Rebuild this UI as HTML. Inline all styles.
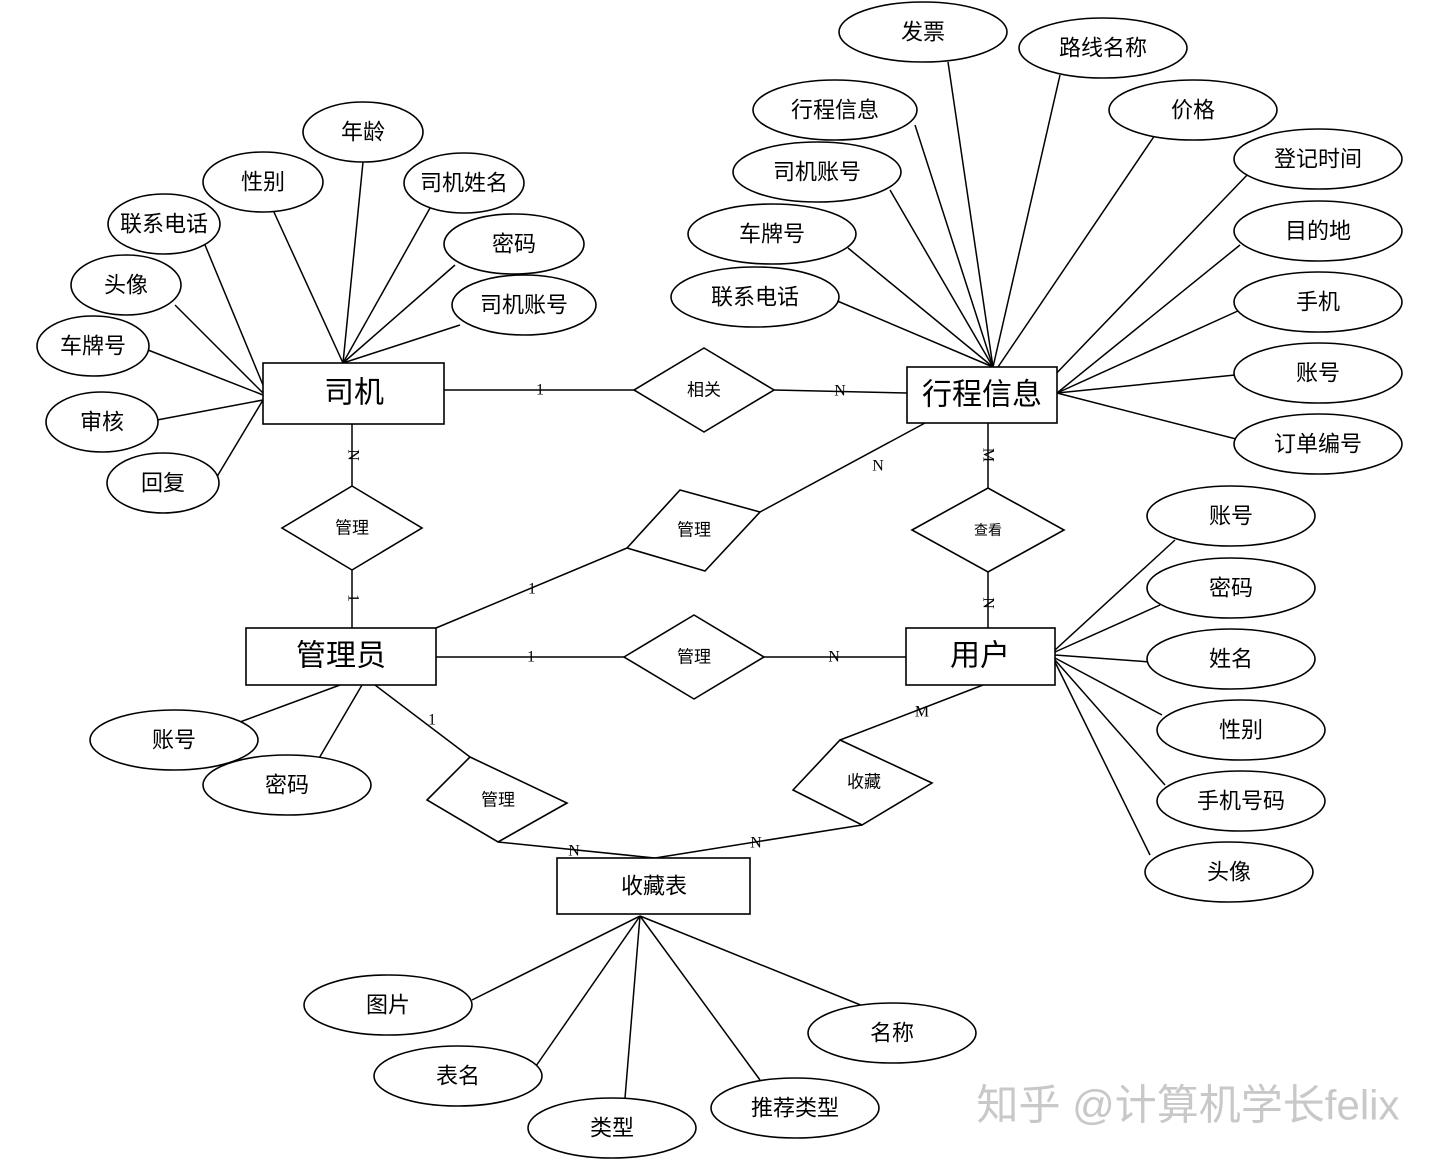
<!DOCTYPE html>
<html><head><meta charset="utf-8"><style>
html,body{margin:0;padding:0;background:#fff;}
svg{display:block;}
text{font-family:"Liberation Sans","Noto Sans CJK SC",sans-serif;fill:#000;text-anchor:middle;dominant-baseline:central;}
.a{font-size:22px;}
.r{font-size:17px;}
.c{font-size:16px;font-family:"Liberation Serif",serif;}
ellipse,rect,polygon{fill:#fff;stroke:#000;stroke-width:1.6;}
line{stroke:#000;stroke-width:1.5;}
</style></head><body>
<svg width="1440" height="1163" viewBox="0 0 1440 1163" xmlns="http://www.w3.org/2000/svg">
<line x1="363" y1="162" x2="343" y2="363"/>
<line x1="273" y1="210" x2="343" y2="363"/>
<line x1="430" y1="208" x2="343" y2="363"/>
<line x1="455" y1="265" x2="343" y2="363"/>
<line x1="460" y1="325" x2="343" y2="363"/>
<line x1="205" y1="245" x2="263" y2="385"/>
<line x1="175" y1="305" x2="263" y2="393"/>
<line x1="148" y1="350" x2="263" y2="395"/>
<line x1="157" y1="420" x2="263" y2="400"/>
<line x1="215" y1="480" x2="263" y2="400"/>
<line x1="948" y1="62" x2="993" y2="367"/>
<line x1="1060" y1="75" x2="993" y2="367"/>
<line x1="915" y1="125" x2="993" y2="367"/>
<line x1="1155" y1="135" x2="998" y2="367"/>
<line x1="890" y1="190" x2="993" y2="367"/>
<line x1="848" y1="248" x2="993" y2="367"/>
<line x1="835" y1="300" x2="993" y2="367"/>
<line x1="1250" y1="172" x2="1050" y2="380"/>
<line x1="1240" y1="245" x2="1057" y2="393"/>
<line x1="1240" y1="310" x2="1057" y2="393"/>
<line x1="1235" y1="375" x2="1057" y2="393"/>
<line x1="1240" y1="440" x2="1057" y2="393"/>
<line x1="444" y1="390" x2="634" y2="390"/>
<line x1="774" y1="390" x2="907" y2="393"/>
<line x1="352" y1="424" x2="352" y2="486"/>
<line x1="352" y1="570" x2="352" y2="628"/>
<line x1="436" y1="628" x2="627" y2="548"/>
<line x1="760" y1="512" x2="925" y2="423"/>
<line x1="988" y1="423" x2="988" y2="488"/>
<line x1="988" y1="572" x2="988" y2="628"/>
<line x1="436" y1="657" x2="624" y2="657"/>
<line x1="764" y1="657" x2="906" y2="657"/>
<line x1="375" y1="685" x2="470" y2="757"/>
<line x1="498" y1="842" x2="655" y2="858"/>
<line x1="840" y1="740" x2="983" y2="685"/>
<line x1="862" y1="825" x2="655" y2="858"/>
<line x1="340" y1="685" x2="240" y2="722"/>
<line x1="362" y1="685" x2="318" y2="760"/>
<line x1="1055" y1="650" x2="1175" y2="540"/>
<line x1="1055" y1="652" x2="1160" y2="605"/>
<line x1="1055" y1="655" x2="1150" y2="662"/>
<line x1="1055" y1="658" x2="1162" y2="715"/>
<line x1="1055" y1="660" x2="1165" y2="785"/>
<line x1="1055" y1="662" x2="1150" y2="855"/>
<line x1="640" y1="916" x2="472" y2="1000"/>
<line x1="640" y1="916" x2="536" y2="1066"/>
<line x1="640" y1="916" x2="625" y2="1098"/>
<line x1="640" y1="916" x2="760" y2="1080"/>
<line x1="640" y1="916" x2="868" y2="1008"/>

<ellipse cx="363" cy="132" rx="60" ry="30"/><text class="a" x="363" y="132">年龄</text>
<ellipse cx="263" cy="182" rx="60" ry="30"/><text class="a" x="263" y="182">性别</text>
<ellipse cx="464" cy="183" rx="60" ry="30"/><text class="a" x="464" y="183">司机姓名</text>
<ellipse cx="164" cy="224" rx="56" ry="30"/><text class="a" x="164" y="224">联系电话</text>
<ellipse cx="514" cy="244" rx="70" ry="30"/><text class="a" x="514" y="244">密码</text>
<ellipse cx="126" cy="285" rx="55" ry="30"/><text class="a" x="126" y="285">头像</text>
<ellipse cx="524" cy="305" rx="72" ry="30"/><text class="a" x="524" y="305">司机账号</text>
<ellipse cx="93" cy="346" rx="56" ry="30"/><text class="a" x="93" y="346">车牌号</text>
<ellipse cx="102" cy="422" rx="56" ry="30"/><text class="a" x="102" y="422">审核</text>
<ellipse cx="163" cy="483" rx="56" ry="30"/><text class="a" x="163" y="483">回复</text>
<ellipse cx="923" cy="32" rx="84" ry="30"/><text class="a" x="923" y="32">发票</text>
<ellipse cx="1103" cy="48" rx="84" ry="30"/><text class="a" x="1103" y="48">路线名称</text>
<ellipse cx="835" cy="110" rx="82" ry="30"/><text class="a" x="835" y="110">行程信息</text>
<ellipse cx="1193" cy="110" rx="84" ry="30"/><text class="a" x="1193" y="110">价格</text>
<ellipse cx="817" cy="172" rx="84" ry="30"/><text class="a" x="817" y="172">司机账号</text>
<ellipse cx="1318" cy="159" rx="84" ry="30"/><text class="a" x="1318" y="159">登记时间</text>
<ellipse cx="772" cy="234" rx="84" ry="30"/><text class="a" x="772" y="234">车牌号</text>
<ellipse cx="1318" cy="231" rx="84" ry="30"/><text class="a" x="1318" y="231">目的地</text>
<ellipse cx="755" cy="297" rx="84" ry="30"/><text class="a" x="755" y="297">联系电话</text>
<ellipse cx="1318" cy="302" rx="84" ry="30"/><text class="a" x="1318" y="302">手机</text>
<ellipse cx="1318" cy="373" rx="84" ry="30"/><text class="a" x="1318" y="373">账号</text>
<ellipse cx="1318" cy="444" rx="84" ry="30"/><text class="a" x="1318" y="444">订单编号</text>
<ellipse cx="1231" cy="516" rx="84" ry="30"/><text class="a" x="1231" y="516">账号</text>
<ellipse cx="1231" cy="588" rx="84" ry="30"/><text class="a" x="1231" y="588">密码</text>
<ellipse cx="1231" cy="659" rx="84" ry="30"/><text class="a" x="1231" y="659">姓名</text>
<ellipse cx="1241" cy="730" rx="84" ry="30"/><text class="a" x="1241" y="730">性别</text>
<ellipse cx="1241" cy="801" rx="84" ry="30"/><text class="a" x="1241" y="801">手机号码</text>
<ellipse cx="1229" cy="872" rx="84" ry="30"/><text class="a" x="1229" y="872">头像</text>
<ellipse cx="174" cy="740" rx="84" ry="30"/><text class="a" x="174" y="740">账号</text>
<ellipse cx="287" cy="785" rx="84" ry="30"/><text class="a" x="287" y="785">密码</text>
<ellipse cx="388" cy="1005" rx="84" ry="30"/><text class="a" x="388" y="1005">图片</text>
<ellipse cx="892" cy="1033" rx="84" ry="30"/><text class="a" x="892" y="1033">名称</text>
<ellipse cx="458" cy="1076" rx="84" ry="30"/><text class="a" x="458" y="1076">表名</text>
<ellipse cx="795" cy="1108" rx="84" ry="30"/><text class="a" x="795" y="1108">推荐类型</text>
<ellipse cx="612" cy="1128" rx="84" ry="30"/><text class="a" x="612" y="1128">类型</text>

<rect x="263" y="363" width="181" height="61"/><text x="354" y="393" style="font-size:30px">司机</text>
<rect x="907" y="367" width="150" height="56"/><text x="982" y="395" style="font-size:30px">行程信息</text>
<rect x="246" y="628" width="190" height="57"/><text x="341" y="656" style="font-size:30px">管理员</text>
<rect x="906" y="628" width="149" height="57"/><text x="980" y="656" style="font-size:30px">用户</text>
<rect x="557" y="858" width="193" height="56"/><text x="654" y="886" style="font-size:22px">收藏表</text>

<polygon points="634,390 704,348 774,390 704,432"/><text class="r" x="704" y="390">相关</text>
<polygon points="282,528 352,486 422,528 352,570"/><text class="r" x="352" y="528">管理</text>
<polygon points="627,548 680,490 760,512 705,571"/><text class="r" x="694" y="530">管理</text>
<polygon points="912,530 988,488 1064,530 988,572"/><text class="r" x="988" y="530" style="font-size:14px">查看</text>
<polygon points="624,657 694,615 764,657 694,699"/><text class="r" x="694" y="657">管理</text>
<polygon points="427,800 470,757 567,803 498,842"/><text class="r" x="498" y="800">管理</text>
<polygon points="793,790 840,740 932,783 862,825"/><text class="r" x="864" y="782">收藏</text>

<text class="c" x="540" y="390">1</text>
<text class="c" x="840" y="391">N</text>
<text class="c" x="353" y="455" transform="rotate(90 353 455)">N</text>
<text class="c" x="353" y="598" transform="rotate(90 353 598)">1</text>
<text class="c" x="532" y="589">1</text>
<text class="c" x="878" y="466">N</text>
<text class="c" x="988" y="455" transform="rotate(90 988 455)">M</text>
<text class="c" x="988" y="603" transform="rotate(90 988 603)">N</text>
<text class="c" x="531" y="657">1</text>
<text class="c" x="834" y="657">N</text>
<text class="c" x="432" y="720">1</text>
<text class="c" x="574" y="851">N</text>
<text class="c" x="922" y="712">M</text>
<text class="c" x="756" y="843">N</text>

<text x="1188" y="1105" style="font-size:42px;fill:#c8c8c8;">知乎 @计算机学长felix</text>
</svg>
</body></html>
